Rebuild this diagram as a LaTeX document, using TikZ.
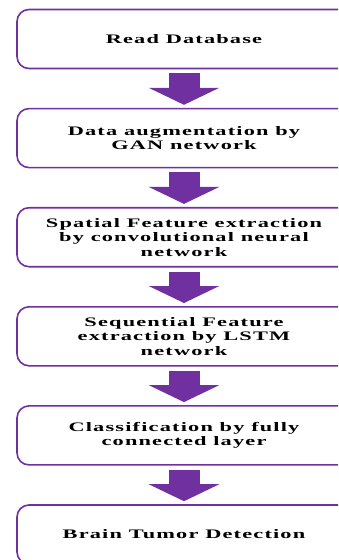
\documentclass[tikz,border=0pt]{standalone}
\usepackage{fontspec}
\setmainfont{Liberation Serif}
\newfontfamily\stepfont{Liberation Serif}[FakeStretch=1.72,LetterSpace=9]
\usepackage{xcolor}
\usepackage{tikz}
\usetikzlibrary{arrows.meta,positioning}

\definecolor{flowpurple}{HTML}{7030A0}

\begin{document}
\begin{tikzpicture}[
    x=1pt, y=1pt,
    node distance=38.5pt,
    stepbox/.style={rectangle, draw=flowpurple, line width=1.6pt, rounded corners=12pt, fill=white, align=center, minimum height=59pt, minimum width=334pt, font=\stepfont\bfseries\fontsize{13}{14.5}\selectfont},
    blockarrow/.style={-{Triangle[width=70pt, length=17pt]}, line width=31pt, draw=flowpurple}
]
    \useasboundingbox (0,0) rectangle (338,-560);
    \clip (0,0) rectangle (338,-560);

    \node [stepbox] (n1) at (184,-39) {Read Database};
    \node [stepbox, below=of n1] (n2) {Data augmentation by\\GAN network};
    \node [stepbox, below=of n2] (n3) {Spatial Feature extraction\\by convolutional neural\\network};
    \node [stepbox, below=of n3] (n4) {Sequential Feature\\extraction by LSTM\\network};
    \node [stepbox, below=of n4] (n5) {Classification by fully\\connected layer};
    \node [stepbox, below=of n5] (n6) {Brain Tumor Detection};

    \draw [blockarrow] ([yshift=-4pt]n1.south) -- ([yshift=3pt]n2.north);
    \draw [blockarrow] ([yshift=-4pt]n2.south) -- ([yshift=3pt]n3.north);
    \draw [blockarrow] ([yshift=-4pt]n3.south) -- ([yshift=3pt]n4.north);
    \draw [blockarrow] ([yshift=-4pt]n4.south) -- ([yshift=3pt]n5.north);
    \draw [blockarrow] ([yshift=-4pt]n5.south) -- ([yshift=3pt]n6.north);
\end{tikzpicture}
\end{document}
